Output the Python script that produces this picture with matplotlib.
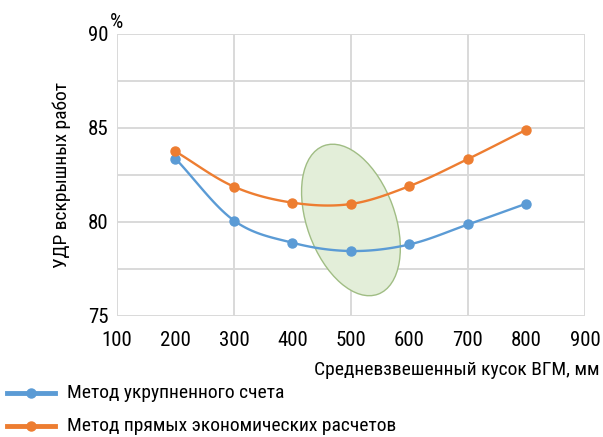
import matplotlib.pyplot as plt
import matplotlib.transforms as transforms
from matplotlib.patches import Ellipse
import numpy as np

plt.rcParams['font.family'] = ['Roboto Condensed', 'DejaVu Sans']

# Data
size_mm = [200, 300, 400, 500, 600, 700, 800]
udr_enlarged = [83.36, 80.07, 78.89, 78.45, 78.8, 79.86, 80.97]
udr_direct = [83.74, 81.87, 81.02, 80.95, 81.9, 83.34, 84.9]
label_enlarged = 'Метод укрупненного счета'
label_direct = 'Метод прямых экономических расчетов'

xticks = [100, 200, 300, 400, 500, 600, 700, 800, 900]
yticks = [75, 80, 85, 90]
xgrid = [100, 300, 500, 700, 900]
ygrid = [75, 77.5, 80, 82.5, 85, 87.5, 90]

blue = '#5b9bd5'
orange = '#ed7d31'
gridc = '#d9d9d9'


def smooth(x, y, n=20):
    # Catmull-Rom curve through the points (like a spreadsheet "smoothed line")
    x = np.asarray(x, float)
    y = np.asarray(y, float)
    px = np.concatenate([[2*x[0]-x[1]], x, [2*x[-1]-x[-2]]])
    py = np.concatenate([[2*y[0]-y[1]], y, [2*y[-1]-y[-2]]])
    xs, ys = [], []
    t = np.linspace(0, 1, n, endpoint=False)
    for i in range(1, len(px)-2):
        for p, out in ((px, xs), (py, ys)):
            p0, p1, p2, p3 = p[i-1], p[i], p[i+1], p[i+2]
            out.extend(0.5*((2*p1) + (-p0+p2)*t + (2*p0-5*p1+4*p2-p3)*t**2
                            + (-p0+3*p1-3*p2+p3)*t**3))
    xs.append(x[-1])
    ys.append(y[-1])
    return xs, ys


fig = plt.figure(figsize=(6.03, 4.37), dpi=100)
ax = fig.add_axes([0.194, 0.277, 0.776, 0.646])

ax.set_xlim(100, 900)
ax.set_ylim(75, 90)
ax.set_xticks(xticks)
ax.set_yticks(yticks)
for s in ax.spines.values():
    s.set_visible(False)
ax.tick_params(length=0, labelsize=15)
ax.tick_params(axis='x', pad=11)
ax.tick_params(axis='y', pad=6)

# grid
for gx in xgrid:
    ax.axvline(gx, color=gridc, lw=1.4, zorder=0)
for gy in ygrid:
    ax.axhline(gy, color=gridc, lw=1.4, zorder=0)

# shaded zone of the optimum
tr = fig.dpi_scale_trans + transforms.ScaledTranslation(500, 80.1, ax.transData)
ax.add_patch(Ellipse((0, 0), 0.88, 1.58, angle=20, transform=tr,
                     facecolor='#e3eed9', edgecolor='#a0bd84', lw=1.0, zorder=1))

xs, ys = smooth(size_mm, udr_enlarged)
ax.plot(xs, ys, color=blue, lw=1.7, zorder=3)
ax.plot(size_mm, udr_enlarged, 'o', color=blue, ms=6.5, zorder=4)
xs, ys = smooth(size_mm, udr_direct)
ax.plot(xs, ys, color=orange, lw=1.7, zorder=3)
ax.plot(size_mm, udr_direct, 'o', color=orange, ms=6.5, zorder=4)

ax.set_ylabel('УДР вскрышных работ', fontsize=14, labelpad=12)
fig.text(0.182, 1 - 28/437, '%', fontsize=15, va='baseline', ha='left')
fig.text(0.995, 0.153, 'Средневзвешенный кусок ВГМ, мм', fontsize=14, ha='right', va='center')

# legend below the axes
for yf, c, lab in ((0.1007, blue, label_enlarged), (0.025, orange, label_direct)):
    fig.add_artist(plt.Line2D([0.0116, 0.091], [yf, yf], color=c, lw=3.5))
    fig.add_artist(plt.Line2D([0.051], [yf], marker='o', color=c, ms=6.5))
    fig.text(0.111, yf, lab, fontsize=14, va='center', ha='left')

fig.savefig('out.png', dpi=100)
